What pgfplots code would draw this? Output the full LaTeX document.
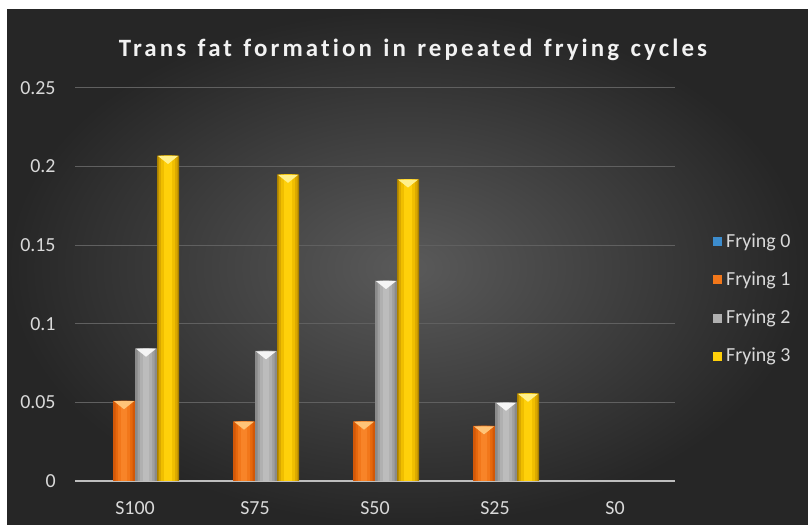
\documentclass[border=0pt]{standalone}
\usepackage{pgfplots}
\pgfplotsset{compat=1.18}
\usepackage{pgfplotstable}
\usepackage{fontspec}
\setmainfont{Carlito}
\newfontfamily\titlefont[LetterSpace=12.5, WordSpace=1.3, Ligatures=CommonOff]{Carlito}
\usetikzlibrary{shapes.geometric}

\definecolor{bgin}{RGB}{90,90,90}
\definecolor{bgout}{RGB}{38,38,38}
\definecolor{labcol}{RGB}{217,217,217}
\definecolor{titlecol}{RGB}{242,242,242}
\definecolor{gridcol}{RGB}{96,96,96}
\definecolor{zerocol}{RGB}{190,190,190}
% Frying 0 (blue)
\definecolor{blue1}{RGB}{60,140,205}
% Frying 1 (orange), edge to centre
\definecolor{or1}{RGB}{210,88,8}
\definecolor{or2}{RGB}{230,104,14}
\definecolor{or3}{RGB}{242,119,26}
\definecolor{or4}{RGB}{248,132,40}
\definecolor{ortop}{RGB}{255,196,120}
% Frying 2 (grey)
\definecolor{gy1}{RGB}{138,138,138}
\definecolor{gy2}{RGB}{160,160,160}
\definecolor{gy3}{RGB}{176,176,176}
\definecolor{gy4}{RGB}{188,188,188}
\definecolor{gytop}{RGB}{245,245,245}
% Frying 3 (yellow)
\definecolor{ye1}{RGB}{170,128,0}
\definecolor{ye2}{RGB}{218,168,0}
\definecolor{ye3}{RGB}{240,190,0}
\definecolor{ye4}{RGB}{255,208,10}
\definecolor{yetop}{RGB}{255,240,140}

% trans fat per sample and frying cycle (x: 0=S100 ... 4=S0)
\pgfplotstableread{
x y
0 0
1 0
2 0
3 0
4 0
}\fryzero
\pgfplotstableread{
x y
0 0.051
1 0.038
2 0.038
3 0.035
}\fryone
\pgfplotstableread{
x y
0 0.0844
1 0.0827
2 0.1274
3 0.0500
}\frytwo
\pgfplotstableread{
x y
0 0.207
1 0.195
2 0.192
3 0.0557
}\frythree

\pgfplotsset{
  % one shaded strip of a bar: shift, width, colour
  layer/.style n args={3}{ybar, bar shift=#1, bar width=#2,
    fill=#3, draw=none},
  % light bevel on the top of a bar: colour, shift
  bevel/.style 2 args={
    nodes near coords={},
    every node near coord/.append style={anchor=north, isosceles triangle,
      shape border rotate=270, isosceles triangle stretches,
      minimum width=10bp, minimum height=4bp, inner sep=0pt,
      xshift=#2, fill=#1, draw=none}},
  sq/.style={legend image code/.code={
      \fill[#1] (0bp,-2.25bp) rectangle (4.5bp,2.25bp);}},
}

\begin{document}
\begin{tikzpicture}
\useasboundingbox (0,0) rectangle (404bp,262.5bp);
\fill[white] (0,0) rectangle (404bp,262.5bp);
\shade[inner color=bgin, outer color=bgout] (3.5bp,0) rectangle (404bp,257.5bp);
\node[anchor=base, text=titlecol, inner sep=0pt,
      font=\titlefont\bfseries\fontsize{12.5}{15}\selectfont]
  at (206.5bp,234.2bp) {Trans fat formation in repeated frying cycles};

\begin{axis}[
  at={(37.5bp,22bp)}, anchor=south west,
  width=300bp, height=196.5bp, scale only axis,
  xmin=-0.5, xmax=4.5, ymin=0, ymax=0.25,
  axis line style={draw=none},
  major tick length=0pt,
  xtick={0,1,2,3,4}, xticklabels={S100,S75,S50,S25,S0},
  ytick={0,0.05,0.1,0.15,0.2,0.25},
  yticklabels={0,0.05,0.1,0.15,0.2,0.25},
  tick label style={font=\fontsize{10}{12}\selectfont, text=labcol},
  yticklabel style={inner sep=0pt, xshift=-9.5bp},
  xticklabel style={inner sep=0pt, yshift=-10bp},
  ymajorgrids, grid style={gridcol, line width=0.5bp},
  extra y ticks={0}, extra y tick labels={},
  extra y tick style={grid style={zerocol, line width=0.8bp}},
  legend style={at={(1.063,0.463)}, anchor=west, draw=none, fill=none,
    font=\fontsize{10}{12}\selectfont, text=labcol, row sep=6.8bp,
    inner sep=0pt},
  legend cell align=left,
]
% Frying 0
\addplot[layer={-16.5bp}{11bp}{blue1}, sq=blue1] table {\fryzero};
\addlegendentry{Frying 0}
% Frying 1
\addplot[layer={-5.5bp}{11bp}{or1}, sq=or3] table {\fryone};
\addlegendentry{Frying 1}
\addplot[layer={-5.5bp}{8.5bp}{or2}, forget plot] table {\fryone};
\addplot[layer={-5.5bp}{6bp}{or3}, forget plot] table {\fryone};
\addplot[layer={-5.5bp}{3bp}{or4}, forget plot, bevel={ortop}{-5.5bp}] table {\fryone};
% Frying 2
\addplot[layer={5.5bp}{11bp}{gy1}, sq=gy3] table {\frytwo};
\addlegendentry{Frying 2}
\addplot[layer={5.5bp}{8.5bp}{gy2}, forget plot] table {\frytwo};
\addplot[layer={5.5bp}{6bp}{gy3}, forget plot] table {\frytwo};
\addplot[layer={5.5bp}{3bp}{gy4}, forget plot, bevel={gytop}{5.5bp}] table {\frytwo};
% Frying 3
\addplot[layer={16.5bp}{11bp}{ye1}, sq=ye4] table {\frythree};
\addlegendentry{Frying 3}
\addplot[layer={16.5bp}{9.5bp}{ye2}, forget plot] table {\frythree};
\addplot[layer={16.5bp}{7bp}{ye3}, forget plot] table {\frythree};
\addplot[layer={16.5bp}{4bp}{ye4}, forget plot, bevel={yetop}{16.5bp}] table {\frythree};
\end{axis}
\end{tikzpicture}
\end{document}
